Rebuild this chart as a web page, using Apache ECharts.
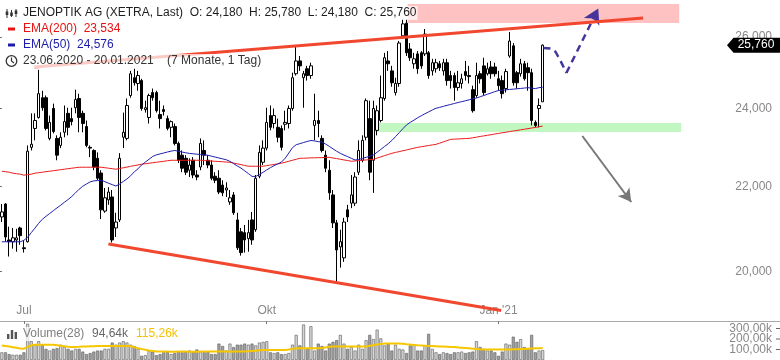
<!DOCTYPE html>
<html><head><meta charset="utf-8">
<script src="https://cdn.jsdelivr.net/npm/echarts@6/dist/echarts.min.js"></script>
<style>html,body{margin:0;padding:0;background:#fff}#c{width:780px;height:360px}</style>
</head><body><div id="c"></div>
<script>
// ---------- data (EUR) ----------
const startDate = '2020-06-23';
const holidays = ['2020-12-24','2020-12-25','2020-12-31','2021-01-01'];
const totalSlots = 212;
const monthLabels = {'2020-07-01':'Jul','2020-10-01':'Okt','2021-01-04':"Jan '21"};
const priceTicks = [20, 22, 24, 26];
const volumeTicks = [100, 200, 300];

const openP = [21.26,21.57,20.72,20.68,20.72,21.00,20.54,20.68,22.98,23.47,
23.76,24.29,24.29,23.21,24.00,23.21,23.03,23.37,23.87,23.73,
24.02,24.27,23.87,23.52,22.98,22.90,22.70,22.33,21.40,21.67,
21.74,21.00,21.19,23.24,23.21,24.35,24.84,24.68,24.76,23.97,
23.76,24.43,24.43,23.84,23.97,23.73,23.50,23.52,23.08,22.78,
22.70,22.40,22.65,22.28,22.48,22.90,22.65,22.53,22.25,22.20,
22.03,21.91,21.62,21.79,21.19,20.91,20.89,20.75,21.19,20.96,
22.25,22.60,22.96,23.81,23.60,23.50,23.47,23.58,23.60,24.00,
24.95,25.31,24.84,25.09,24.90,23.55,23.68,23.21,22.78,22.40,
21.79,21.12,20.56,20.31,21.43,21.59,21.59,22.35,22.65,23.24,
23.73,22.65,23.42,23.68,24.27,25.31,25.03,24.43,24.68,26.03,
26.40,25.65,25.23,25.51,25.54,25.51,25.54,25.03,25.09,25.23,
25.03,25.26,24.90,24.90,24.57,24.68,25.01,24.90,24.51,24.35,
24.95,25.17,24.95,25.14,25.14,24.81,24.76,24.54,25.45,25.74,
24.98,24.95,25.23,25.12,24.98,23.63,24.00,24.18];
const closeP = [21.38,20.79,20.68,20.77,20.77,20.82,20.52,22.88,23.06,23.68,
24.40,24.02,23.47,23.63,23.39,22.78,23.24,23.65,23.50,23.65,
24.24,23.76,23.60,23.03,22.96,22.48,22.20,21.43,21.72,21.86,
20.72,21.14,22.70,23.37,24.08,24.95,24.70,24.90,24.00,24.02,
24.35,24.29,23.94,23.73,23.92,23.47,23.65,23.08,22.65,22.45,
22.35,22.53,22.28,22.23,23.08,22.78,22.53,22.20,22.15,21.86,
21.84,21.96,21.72,21.36,20.54,20.43,20.72,20.89,20.72,22.20,
22.85,22.96,23.63,23.50,23.81,23.24,22.98,23.63,24.00,24.84,
25.31,25.17,24.95,24.90,25.17,23.68,23.60,22.90,22.45,21.84,
21.12,20.49,20.68,21.14,21.26,21.79,22.23,22.90,23.16,24.21,
22.35,24.00,23.94,24.29,25.40,25.23,24.70,24.68,25.82,26.38,
25.54,25.40,25.37,25.09,25.17,26.08,24.90,25.26,25.26,25.12,
25.26,24.76,24.76,24.57,24.70,24.81,24.90,24.87,23.94,24.90,
24.81,24.43,25.09,24.95,24.95,24.62,24.40,25.01,25.88,24.70,
24.70,25.23,24.81,24.98,23.68,23.55,24.08,25.76];
const lowP = [21.14,20.68,20.34,20.52,20.45,20.61,20.43,20.66,22.90,23.16,
23.73,23.94,23.42,23.16,23.34,22.65,22.96,23.24,23.29,23.55,
23.87,23.37,23.37,22.98,22.73,22.40,22.15,21.21,21.36,21.55,
20.66,20.79,21.14,22.96,23.16,24.29,24.62,24.48,23.94,23.89,
23.60,24.21,23.89,23.47,23.81,23.42,23.24,23.03,22.58,22.35,
22.28,22.23,22.20,22.15,22.40,22.53,22.45,22.15,22.08,21.81,
21.76,21.74,21.55,21.31,20.49,20.36,20.43,20.45,20.61,20.91,
22.20,22.53,22.90,23.42,23.47,23.11,22.90,23.42,23.47,23.94,
24.90,25.03,24.02,24.76,24.81,23.16,23.24,22.85,22.35,21.67,
21.00,19.76,20.09,20.22,21.14,21.47,21.52,22.28,22.60,23.16,
22.15,21.84,23.29,23.63,24.21,25.03,24.59,24.35,24.59,25.94,
25.45,25.31,25.09,24.95,25.09,25.45,24.81,24.90,24.98,25.03,
24.90,24.62,24.54,24.21,24.48,24.54,24.76,24.68,23.89,24.29,
24.68,24.35,24.90,24.81,24.87,24.48,24.27,24.43,25.40,24.62,
24.54,24.87,24.76,24.48,23.55,23.50,23.50,24.18];
const highP = [21.57,21.59,21.03,21.00,20.98,21.03,20.72,23.03,23.87,23.87,
25.06,24.48,24.35,23.81,24.13,23.29,23.37,24.08,24.02,24.02,
24.51,24.40,23.94,23.68,23.03,22.93,22.85,22.40,21.96,21.98,
21.91,21.36,22.83,23.89,24.27,25.03,25.09,25.03,24.81,24.21,
24.40,24.54,24.48,24.21,24.08,23.81,23.68,23.60,23.13,22.90,
22.78,22.70,22.73,22.40,23.21,23.16,22.78,22.65,22.35,22.40,
22.15,22.10,21.91,21.86,21.36,21.00,21.07,21.19,21.38,22.28,
23.03,23.16,24.02,24.08,24.00,23.73,23.55,23.94,24.08,24.98,
25.74,25.45,25.03,25.17,25.26,24.40,23.94,23.29,22.90,22.65,
21.91,21.19,20.96,21.24,21.55,22.28,22.35,23.16,23.29,24.27,
24.21,24.21,24.08,24.90,25.54,25.59,25.17,24.84,25.88,26.52,
26.52,25.82,25.54,25.59,25.59,26.23,25.59,25.37,25.37,25.31,
25.37,25.37,25.03,24.98,25.03,24.95,25.31,25.17,24.62,25.26,
25.03,25.40,25.26,25.31,25.26,25.03,24.90,25.09,26.14,25.82,
25.03,25.37,25.31,25.26,25.09,23.68,24.27,25.78];
const ema200 = [22.375,22.363,22.350,22.326,22.313,22.301,22.276,22.289,22.301,22.326,
22.338,22.350,22.363,22.375,22.388,22.400,22.413,22.425,22.438,22.450,
22.463,22.475,22.475,22.475,22.475,22.475,22.475,22.475,22.463,22.450,
22.438,22.425,22.443,22.460,22.478,22.498,22.515,22.533,22.550,22.563,
22.575,22.588,22.600,22.613,22.625,22.638,22.650,22.650,22.650,22.650,
22.650,22.650,22.650,22.650,22.650,22.643,22.638,22.630,22.625,22.618,
22.613,22.605,22.600,22.580,22.560,22.540,22.520,22.500,22.500,22.500,
22.500,22.500,22.515,22.530,22.545,22.560,22.575,22.600,22.625,22.650,
22.675,22.701,22.703,22.706,22.711,22.713,22.716,22.718,22.723,22.726,
22.708,22.693,22.675,22.658,22.643,22.625,22.633,22.643,22.650,22.658,
22.668,22.675,22.706,22.736,22.767,22.797,22.827,22.850,22.870,22.893,
22.913,22.936,22.957,22.980,22.995,23.011,23.026,23.042,23.057,23.088,
23.121,23.152,23.186,23.191,23.196,23.202,23.207,23.212,23.227,23.243,
23.261,23.276,23.292,23.307,23.325,23.341,23.357,23.372,23.388,23.403,
23.418,23.434,23.450,23.466,23.481,23.497,23.515,23.534];
const ema50 = [20.678,20.678,20.678,20.678,20.678,20.678,20.712,20.781,20.891,20.996,
21.108,21.204,21.275,21.343,21.409,21.477,21.541,21.611,21.678,21.751,
21.838,21.928,22.003,22.057,22.110,22.135,22.142,22.152,22.115,22.076,
22.042,22.008,22.054,22.120,22.182,22.261,22.360,22.435,22.533,22.605,
22.675,22.747,22.787,22.812,22.835,22.860,22.883,22.900,22.880,22.860,
22.840,22.825,22.815,22.805,22.797,22.787,22.777,22.754,22.731,22.708,
22.686,22.663,22.623,22.565,22.508,22.453,22.385,22.316,22.246,22.244,
22.294,22.348,22.408,22.465,22.513,22.558,22.605,22.701,22.835,22.972,
23.047,23.075,23.104,23.132,23.157,23.145,23.127,23.114,23.065,23.004,
22.942,22.880,22.827,22.782,22.742,22.699,22.658,22.671,22.699,22.724,
22.752,22.785,22.855,22.926,23.001,23.073,23.157,23.258,23.360,23.463,
23.564,23.630,23.688,23.752,23.805,23.859,23.909,23.960,24.006,24.030,
24.057,24.084,24.108,24.135,24.160,24.184,24.207,24.234,24.259,24.283,
24.316,24.351,24.386,24.421,24.456,24.486,24.494,24.505,24.516,24.524,
24.535,24.543,24.554,24.565,24.551,24.538,24.565,24.576];
const volumeK = [73,73,56,50,50,50,73,345,179,146,
179,146,106,90,106,113,146,123,106,90,
106,106,80,56,66,80,90,90,106,106,
166,146,166,179,166,146,133,106,40,46,
90,80,46,56,73,80,56,66,80,73,
80,90,80,100,80,73,80,56,56,156,
133,90,156,123,146,146,156,146,156,139,
166,173,179,73,66,73,56,56,66,146,
239,139,338,106,322,90,156,133,90,156,
173,189,239,156,106,123,90,146,106,189,
239,199,289,206,139,156,90,146,106,100,
66,139,146,90,90,139,249,106,73,56,
73,66,56,73,73,80,66,73,80,179,
123,106,90,90,73,40,80,156,146,222,
173,199,123,113,239,73,90,94.64];
const volumeMA = [139,134,128,122,116,110,108,126,140,146,
146,146,146,146,146,141,136,131,126,123,
125,126,128,129,131,132,133,133,133,133,
133,133,133,133,133,132,123,112,104,97,
91,86,81,80,80,80,79,79,80,81,
80,79,78,79,80,81,82,81,80,80,
81,80,79,80,81,82,82,83,86,89,
92,95,96,96,96,96,96,96,100,106,
112,113,113,113,113,113,113,114,120,126,
129,129,129,129,129,129,129,129,129,129,
135,141,147,152,156,156,156,156,156,155,
151,148,144,140,138,136,134,133,131,129,
128,126,124,123,120,117,114,111,108,105,
102,100,100,100,100,100,100,100,101,102,
103,104,105,107,109,111,113,115.26];

// drawings in data space: [slot index, price]
const upperTrend = [[8.82, 25.139], [174.3, 26.554]];
const lowerTrend = [[28.98, 20.627], [135.72, 19.150]];
const resistanceZone = [[110.3, 26.972], [184.1, 26.406]];
const supportZone = [[98.63, 23.614], [184.64, 23.377]];
const scenarioPath = [[147.2, 25.678], [149.64, 25.650], [151.27, 25.421], [153.43, 24.971]];
const scenarioArrow = [[153.43, 24.971], [162.11, 26.837]];
const downArrow = [[157.78, 23.273], [171.07, 21.618]];

// ---------- helpers ----------
function tradingDays(start, n, skip) {
  const out = []; const d = new Date(start + 'T00:00:00Z');
  while (out.length < n) {
    const wd = d.getUTCDay(); const s = d.toISOString().slice(0, 10);
    if (wd !== 0 && wd !== 6 && skip.indexOf(s) < 0) out.push(s);
    d.setUTCDate(d.getUTCDate() + 1);
  }
  return out;
}
const categories = tradingDays(startDate, totalSlots, holidays);
const L = Math.log;
const fmtPrice = p => p.toFixed(3).replace('.', ',');
const pt = a => [a[0], L(a[1])];
const FONT = '"Liberation Sans", Arial, sans-serif';

const candleData = openP.map((o, i) => [L(o), L(closeP[i]), L(lowP[i]), L(highP[i])]);
const volData = volumeK.map((v, i) => ({ value: v, itemStyle: { color: closeP[i] >= openP[i] ? '#d6d6d6' : '#a2a2a2' } }));

const chart = echarts.init(document.getElementById('c'), null, { renderer: 'canvas' });
const yTop = 2952.2 / 894.8, yBot = (2952.2 - 321) / 894.8;
const isLabel = (idx, val) => !!monthLabels[val];

const option = {
  animation: false,
  textStyle: { fontFamily: FONT },
  grid: [
    { left: -1.34, right: 0, top: 0, bottom: 39 },
    { left: -1.34, right: 0, top: 322, bottom: 0 }
  ],
  xAxis: [
    { type: 'category', gridIndex: 0, data: categories, boundaryGap: true,
      axisLine: { show: true, lineStyle: { color: '#a8a8a8', width: 1 } },
      axisTick: { show: true, alignWithLabel: true, interval: isLabel, length: 3, lineStyle: { color: '#777' } },
      axisLabel: { inside: true, interval: isLabel, formatter: v => monthLabels[v] || '', color: '#888', fontSize: 12, margin: 4 },
      splitLine: { show: false } },
    { type: 'category', gridIndex: 1, data: categories, boundaryGap: true, show: false },
    { type: 'value', gridIndex: 0, min: -0.5, max: totalSlots - 0.5, show: false }
  ],
  yAxis: [
    { type: 'value', gridIndex: 0, position: 'right', min: yBot, max: yTop,
      axisLine: { show: false },
      axisTick: { show: true, inside: true, length: 4, customValues: priceTicks.map(L), lineStyle: { color: '#666' } },
      axisLabel: { inside: true, margin: 8, hideOverlap: false, customValues: priceTicks.map(L), formatter: v => fmtPrice(Math.exp(v)), color: '#888', fontSize: 12 },
      splitLine: { show: false } },
    { type: 'value', gridIndex: 1, position: 'right', min: 0, max: 362,
      axisLine: { show: false }, axisTick: { show: false }, axisLabel: { show: false },
      splitLine: { show: false } }
  ],
  series: [
    { type: 'candlestick', xAxisIndex: 0, yAxisIndex: 0, data: candleData, barWidth: 3, z: 3,
      itemStyle: { color: '#ffffff', color0: '#000000', borderColor: '#000000', borderColor0: '#000000', borderWidth: 1 } },
    { type: 'line', xAxisIndex: 0, yAxisIndex: 0, data: ema200.map(L), symbol: 'none', z: 4,
      lineStyle: { color: '#ec1b1b', width: 1 } },
    { type: 'line', xAxisIndex: 0, yAxisIndex: 0, data: ema50.map(L), symbol: 'none', z: 4,
      lineStyle: { color: '#1f1fb0', width: 1 } },
    { type: 'bar', xAxisIndex: 1, yAxisIndex: 1, data: volData, barWidth: 3,
      itemStyle: { borderColor: '#5a5a5a', borderWidth: 0.6 } },
    { type: 'line', xAxisIndex: 1, yAxisIndex: 1, data: volumeMA, symbol: 'none', z: 4,
      lineStyle: { color: '#f6c700', width: 2 } },
    { type: 'line', xAxisIndex: 2, yAxisIndex: 0, data: upperTrend.map(pt), symbol: 'none', z: 6, silent: true,
      lineStyle: { color: '#f2472f', width: 3 },
      markArea: { silent: true, z: 1, data: [
        [{ coord: pt(resistanceZone[0]), itemStyle: { color: 'rgba(255,110,110,0.42)' } }, { coord: pt(resistanceZone[1]) }],
        [{ coord: pt(supportZone[0]), itemStyle: { color: 'rgba(110,235,110,0.42)' } }, { coord: pt(supportZone[1]) }]
      ] } },
    { type: 'line', xAxisIndex: 2, yAxisIndex: 0, data: lowerTrend.map(pt), symbol: 'none', z: 6, silent: true,
      lineStyle: { color: '#f2472f', width: 3 },
      markLine: { silent: true, symbol: ['none', 'arrow'], symbolSize: [11, 13], label: { show: false },
        lineStyle: { color: '#777777', width: 2, type: 'solid' },
        data: [[{ coord: pt(downArrow[0]) }, { coord: pt(downArrow[1]) }]] } },
    { type: 'line', xAxisIndex: 2, yAxisIndex: 0, data: scenarioPath.map(pt), symbol: 'none', smooth: 0.35, z: 6, silent: true,
      lineStyle: { color: '#3d3a9c', width: 2.5, type: [7, 5] },
      markLine: { silent: true, symbol: ['none', 'arrow'], symbolSize: [13, 15], label: { show: false },
        lineStyle: { color: '#46349a', width: 2.5, type: [7, 5] },
        data: [[{ coord: pt(scenarioArrow[0]) }, { coord: pt(scenarioArrow[1]) }]] } }
  ]
};
chart.setOption(option);

// ---------- overlays (legends, volume scale labels, last price tag) ----------
const lastClose = closeP[closeP.length - 1];
const tagY = chart.convertToPixel({ yAxisIndex: 0 }, L(lastClose));
const bg = 'rgba(255,255,255,0.72)';
function txt(x, y, text, fill, extra) {
  return Object.assign({ type: 'text', x: x, y: y, z: 100, silent: true,
    style: { text: text, fill: fill, font: '12px ' + FONT, verticalAlign: 'middle', backgroundColor: bg, padding: [1, 1] } }, extra || {});
}
const g = [];
g.push(txt(22, 13, 'JENOPTIK AG (XETRA, Last)  O: 24,180  H: 25,780  L: 24,180  C: 25,760', '#1e1e1e'));
g.push(txt(22, 29, 'EMA(200)  23,534', '#e81212'));
g.push(txt(22, 45, 'EMA(50)  24,576', '#1c1cab'));
g.push(txt(22, 61, '23.06.2020 - 20.01.2021    (7 Monate, 1 Tag)', '#333333'));
// icons
[[7, 9, 18, 11.5, 15], [11.5, 10, 17, 12.5, 16], [16, 9, 17, 10.5, 14]].forEach(a => {
  g.push({ type: 'line', z: 101, silent: true, shape: { x1: a[0], y1: a[1], x2: a[0], y2: a[2] }, style: { stroke: '#333', lineWidth: 1 } });
  g.push({ type: 'rect', z: 101, silent: true, shape: { x: a[0] - 1.3, y: a[3], width: 2.6, height: a[4] - a[3] }, style: { fill: '#333' } });
});
g.push({ type: 'rect', z: 101, silent: true, shape: { x: 8, y: 27.5, width: 7, height: 3 }, style: { fill: '#e81212' } });
g.push({ type: 'rect', z: 101, silent: true, shape: { x: 8, y: 43.5, width: 7, height: 3 }, style: { fill: '#1c1cab' } });
g.push({ type: 'circle', z: 101, silent: true, shape: { cx: 11.5, cy: 61, r: 5.3 }, style: { fill: 'none', stroke: '#333', lineWidth: 1.3 } });
g.push({ type: 'polyline', z: 101, silent: true, shape: { points: [[11.5, 57.5], [11.5, 61], [14, 63]] }, style: { fill: 'none', stroke: '#333', lineWidth: 1.2 } });
// volume legend
g.push({ type: 'rect', z: 101, silent: true, shape: { x: 7, y: 334, width: 2.4, height: 5 }, style: { fill: '#555' } });
g.push({ type: 'rect', z: 101, silent: true, shape: { x: 10.8, y: 330, width: 2.4, height: 9 }, style: { fill: '#555' } });
g.push({ type: 'rect', z: 101, silent: true, shape: { x: 14.6, y: 332, width: 2.4, height: 7 }, style: { fill: '#555' } });
g.push(txt(22, 334, 'Volume(28)', '#808080'));
g.push(txt(91, 334, '94,64k', '#666666'));
g.push(txt(135, 334, '115,26k', '#f2c200'));
// volume scale (positions from the volume axis)
volumeTicks.forEach(v => {
  const y = chart.convertToPixel({ yAxisIndex: 1 }, v);
  g.push({ type: 'line', z: 101, silent: true, shape: { x1: 776, y1: y, x2: 780, y2: y }, style: { stroke: '#666', lineWidth: 1 } });
  g.push({ type: 'text', z: 101, silent: true, x: 772, y: y,
    style: { text: v + ',00k', fill: '#888', font: '12px ' + FONT, align: 'right', verticalAlign: 'middle' } });
});
// last price tag
g.push({ type: 'polygon', z: 102, silent: true,
  shape: { points: [[727, tagY], [733.5, tagY - 7.5], [780, tagY - 7.5], [780, tagY + 7.5], [733.5, tagY + 7.5]] },
  style: { fill: '#000' } });
g.push({ type: 'text', z: 103, silent: true, x: 756, y: tagY,
  style: { text: fmtPrice(lastClose), fill: '#fff', font: '12px ' + FONT, align: 'center', verticalAlign: 'middle' } });
chart.setOption({ graphic: { elements: g } });
</script></body></html>
